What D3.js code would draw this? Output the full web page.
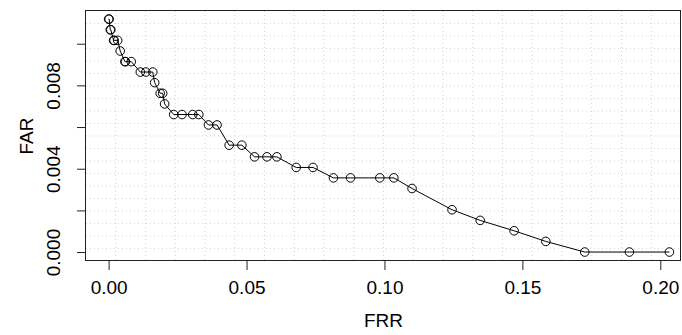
<!DOCTYPE html>
<html>
<head>
<meta charset="utf-8">
<script src="https://cdnjs.cloudflare.com/ajax/libs/d3/7.8.5/d3.min.js"></script>
<style>
  body { margin: 0; background: #fff; }
  text { font-family: "Liberation Sans", Arial, Helvetica, sans-serif; fill: #000; }
</style>
</head>
<body>
<div id="chart"></div>
<script>
// FRR vs FAR curve

// data
var frr = [0, 0.0002, 0.0006, 0.0008, 0.0018, 0.0020, 0.0033, 0.0042, 0.0059, 0.0061,
    0.0082, 0.0115, 0.0135, 0.0160, 0.0167, 0.0187, 0.0196, 0.0203, 0.0236, 0.0266,
    0.0305, 0.0327, 0.0362, 0.0393, 0.0437, 0.0483, 0.0529, 0.0574, 0.0610, 0.0680,
    0.0741, 0.0815, 0.0877, 0.0983, 0.1034, 0.1100, 0.1245, 0.1347, 0.1470, 0.1585,
    0.1726, 0.1888, 0.2033];
var far = [0.01118, 0.01118, 0.01067, 0.01067, 0.01016, 0.01016, 0.01016, 0.00965, 0.00914, 0.00914,
    0.00914, 0.00864, 0.00864, 0.00864, 0.00813, 0.00762, 0.00762, 0.00711, 0.00660, 0.00660,
    0.00660, 0.00660, 0.00610, 0.00610, 0.00513, 0.00513, 0.00457, 0.00457, 0.00457, 0.00406,
    0.00406, 0.00356, 0.00356, 0.00356, 0.00356, 0.00305, 0.00203, 0.00152, 0.00102, 0.00051,
    0, 0, 0];

var xTicks = [0, 0.05, 0.10, 0.15, 0.20];
var yTicks = [0, 0.002, 0.004, 0.006, 0.008, 0.010];
var yTickLabels = ["0.000", "", "0.004", "", "0.008", ""];
var xDomain = [-0.0082, 0.2075];
var yDomain = [-0.00043, 0.01157];

// dimensions
var width = 682;
var height = 335;
var margin = { top: 11, right: 1, bottom: 74, left: 86 };
var w = width - margin.left - margin.right;
var h = height - margin.top - margin.bottom;
var fontSize = 19;

var svg = d3.select("#chart")
    .append("svg")
    .attr("width", width)
    .attr("height", height);

var g = svg.append("g")
    .attr("transform", "translate(" + margin.left + "," + margin.top + ")");

var x = d3.scaleLinear().domain(xDomain).range([0, w]);
var y = d3.scaleLinear().domain(yDomain).range([h, 0]);

// dotted grid, 20 cells each way
g.selectAll(".vgrid")
    .data(d3.range(1, 20))
    .enter()
    .append("line")
    .attr("x1", function (d) { return d * w / 20; })
    .attr("x2", function (d) { return d * w / 20; })
    .attr("y1", 0)
    .attr("y2", h)
    .attr("stroke", "#d3d3d3")
    .attr("stroke-dasharray", "1,3");

g.selectAll(".hgrid")
    .data(d3.range(1, 20))
    .enter()
    .append("line")
    .attr("y1", function (d) { return d * h / 20; })
    .attr("y2", function (d) { return d * h / 20; })
    .attr("x1", 0)
    .attr("x2", w)
    .attr("stroke", "#d3d3d3")
    .attr("stroke-dasharray", "1,3");

// axes
var xAxis = g.append("g")
    .attr("transform", "translate(0," + h + ")")
    .call(d3.axisBottom(x)
        .tickValues(xTicks)
        .tickSize(9)
        .tickPadding(11)
        .tickFormat(d3.format(".2f")));

var yAxis = g.append("g")
    .call(d3.axisLeft(y)
        .tickValues(yTicks)
        .tickSize(9)
        .tickFormat(function (d, i) { return yTickLabels[i]; }));

[xAxis, yAxis].forEach(function (a) {
    a.select(".domain").remove();
    a.selectAll("line").attr("stroke", "#222");
    a.selectAll("text")
        .style("font-size", fontSize + "px")
        .attr("fill", "#000");
});

// rotate the y labels like R does
yAxis.selectAll("text")
    .attr("transform", "rotate(-90)")
    .attr("x", 0)
    .attr("y", -26)
    .attr("dy", 0)
    .attr("text-anchor", "middle");

// box around the plot
g.append("rect")
    .attr("x", -0.5)
    .attr("y", -0.5)
    .attr("width", w)
    .attr("height", h)
    .attr("fill", "none")
    .attr("stroke", "#222");

// the curve
var pts = frr.map(function (d, i) { return [d, far[i]]; });

g.append("path")
    .datum(pts)
    .attr("fill", "none")
    .attr("stroke", "#000")
    .attr("stroke-width", 1)
    .attr("d", d3.line()
        .x(function (d) { return x(d[0]); })
        .y(function (d) { return y(d[1]); }));

g.selectAll(".pt")
    .data(pts)
    .enter()
    .append("circle")
    .attr("class", "pt")
    .attr("cx", function (d) { return x(d[0]); })
    .attr("cy", function (d) { return y(d[1]); })
    .attr("r", 4.3)
    .attr("fill", "none")
    .attr("stroke", "#000")
    .attr("stroke-width", 1);

// axis titles
svg.append("text")
    .attr("x", margin.left + w / 2)
    .attr("y", 327)
    .attr("text-anchor", "middle")
    .style("font-size", fontSize + "px")
    .text("FRR");

svg.append("text")
    .attr("transform", "translate(33," + (margin.top + h / 2) + ") rotate(-90)")
    .attr("text-anchor", "middle")
    .style("font-size", fontSize + "px")
    .text("FAR");
</script>
</body>
</html>
